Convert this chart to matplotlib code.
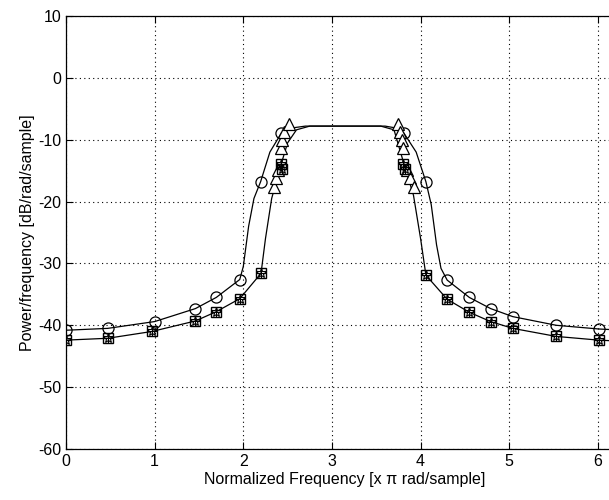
import numpy as np
import matplotlib
matplotlib.use('Agg')
import matplotlib.pyplot as plt

plt.rcParams['font.family'] = ['Liberation Sans', 'DejaVu Sans']
plt.rcParams['axes.unicode_minus'] = False

# outer curve (circles) - line vertices and marker samples
outer_x = [0, 0.47, 1.0, 1.46, 1.695, 1.96, 2.0, 2.06, 2.12, 2.195, 2.3, 2.43, 2.55, 2.7,
           3.6, 3.72, 3.81, 3.95, 4.06, 4.12, 4.18, 4.23, 4.30, 4.55, 4.79, 5.04, 5.53, 6.01, 6.3]
outer_y = [-40.8, -40.5, -39.4, -37.3, -35.5, -32.6, -30.5, -24.0, -19.5, -16.8, -12.0, -8.9, -8.1, -7.8,
           -7.8, -8.1, -8.9, -12.0, -16.8, -20.5, -27.0, -30.8, -32.7, -35.5, -37.3, -38.6, -40.0, -40.6, -40.8]
circ_x = [0, 0.47, 1.0, 1.46, 1.695, 1.96, 2.195, 2.43, 3.81, 4.06, 4.30, 4.55, 4.79, 5.04, 5.53, 6.01]
circ_y = [-40.8, -40.5, -39.4, -37.3, -35.5, -32.6, -16.8, -8.9, -8.9, -16.8, -32.7, -35.5, -37.3, -38.6, -40.0, -40.6]

# inner curve (squares)
inner_x = [0, 0.47, 0.97, 1.46, 1.695, 1.96, 2.2, 2.25, 2.32, 2.43, 2.5, 2.6, 2.75,
           3.55, 3.7, 3.81, 3.92, 4.0, 4.06, 4.30, 4.55, 4.79, 5.04, 5.53, 6.01, 6.3]
inner_y = [-42.4, -42.1, -41.0, -39.3, -37.8, -35.7, -31.6, -26.0, -19.5, -13.8, -10.5, -8.4, -7.8,
           -7.8, -8.4, -13.8, -19.0, -26.0, -31.9, -35.8, -37.9, -39.4, -40.5, -41.8, -42.4, -42.6]
sq_x = [0, 0.47, 0.97, 1.46, 1.695, 1.96, 2.2, 2.42, 2.44, 3.80, 3.82, 4.06, 4.30, 4.55, 4.79, 5.04, 5.53, 6.01]
sq_y = [-42.4, -42.1, -41.0, -39.3, -37.8, -35.7, -31.6, -14.0, -14.8, -14.0, -14.8, -31.9, -35.8, -37.9, -39.4, -40.5, -41.8, -42.4]

# triangles on the steep part
tri_x = [2.35, 2.37, 2.39, 2.42, 2.44, 2.455, 2.52, 3.75, 3.77, 3.79, 3.80, 3.85, 3.88, 3.92]
tri_y = [-17.6, -16.2, -14.9, -11.4, -10.0, -8.7, -7.4, -7.4, -8.7, -10.0, -11.4, -14.9, -16.2, -17.6]

fig = plt.figure(figsize=(6.09, 5.0), dpi=100)
ax = fig.add_axes([66 / 609, 51 / 500, 557 / 609, 433 / 500])

ax.plot(outer_x, outer_y, color='black', lw=0.9)
ax.plot(inner_x, inner_y, color='black', lw=0.9)
ax.plot(circ_x, circ_y, ls='none', marker='o', ms=8, mfc='none', mec='black', mew=0.9)
ax.plot(tri_x, tri_y, ls='none', marker='^', ms=8, mfc='white', mec='black', mew=0.9)
ax.plot(sq_x, sq_y, ls='none', marker='s', ms=7, mfc='none', mec='black', mew=1.0)
ax.plot(sq_x, sq_y, ls='none', marker='*', ms=7, mfc='none', mec='black', mew=0.8)
ax.plot(sq_x, sq_y, ls='none', marker='+', ms=7, mec='black', mew=0.8)

ax.set_xlim(0, 2 * np.pi)
ax.set_ylim(-60, 10)
ax.set_xticks(range(0, 7))
ax.set_yticks(range(-60, 11, 10))
ax.grid(True, color='black', lw=0.8, dashes=(1, 3))
ax.tick_params(direction='in', length=5, labelsize=11.5, top=True, right=True)
for s in ax.spines.values():
    s.set_linewidth(0.9)

ax.set_xlabel('Normalized Frequency [x \u03c0 rad/sample]', fontsize=11.5, labelpad=2)
ax.set_ylabel('Power/frequency [dB/rad/sample]', fontsize=11.5, labelpad=2)

fig.savefig('out.png', dpi=100)
